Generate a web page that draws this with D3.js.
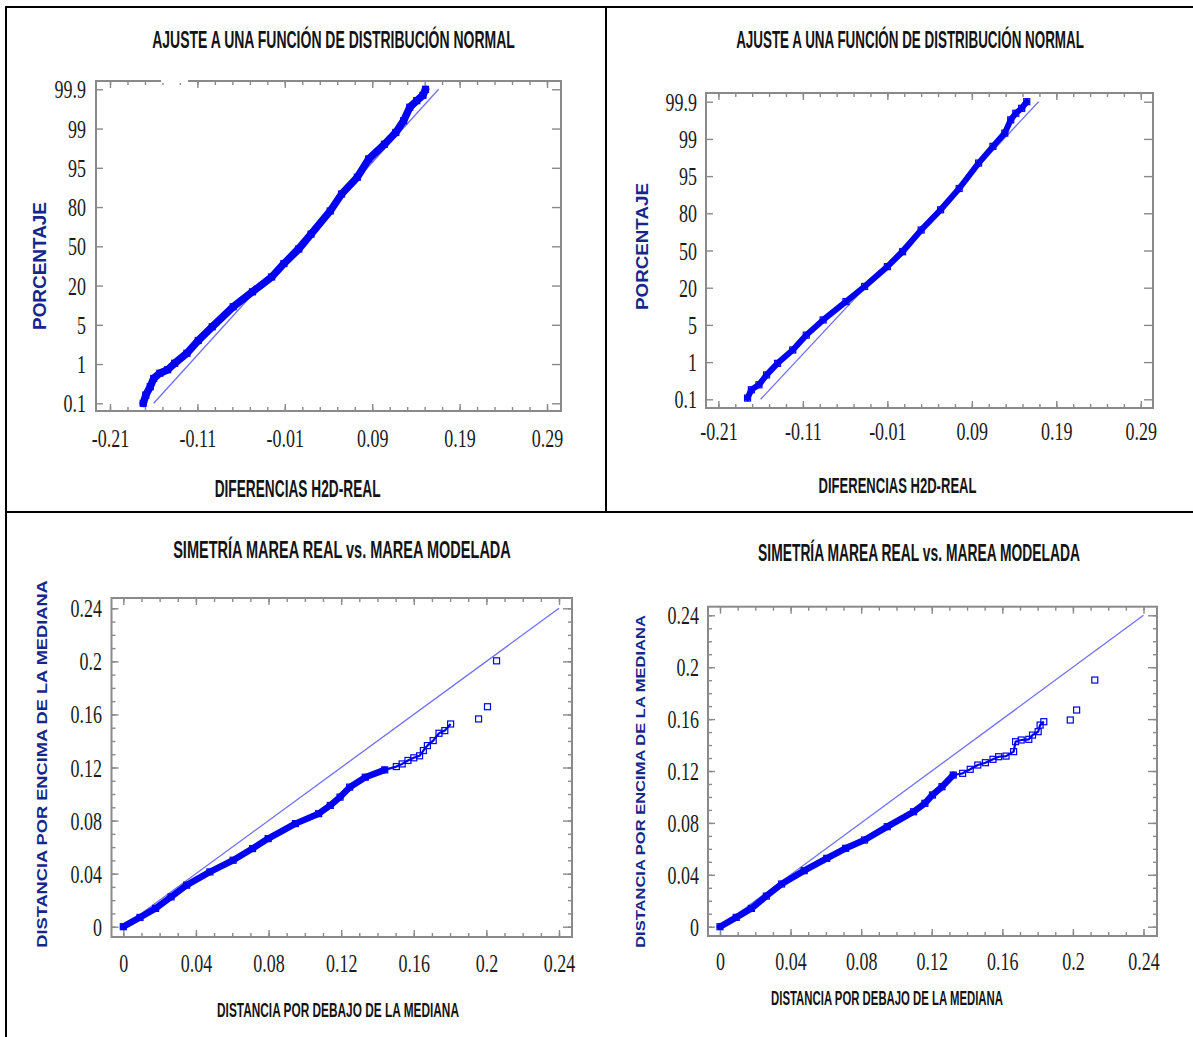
<!DOCTYPE html>
<html><head><meta charset="utf-8">
<script src="https://cdn.jsdelivr.net/npm/d3@7"></script>
<style>html,body{margin:0;padding:0;background:#fff}svg{display:block}</style>
</head><body>
<script>
// ---------- DATA ----------
const pctTicks = [0.1, 1, 5, 20, 50, 80, 95, 99, 99.9];
const pctTickLabels = ["0.1", "1", "5", "20", "50", "80", "95", "99", "99.9"];
const diffTicks = [-0.21, -0.11, -0.01, 0.09, 0.19, 0.29];
const diffTickLabels = ["-0.21", "-0.11", "-0.01", "0.09", "0.19", "0.29"];
const distTicks = [0, 0.04, 0.08, 0.12, 0.16, 0.2, 0.24];
const distTickLabels = ["0", "0.04", "0.08", "0.12", "0.16", "0.2", "0.24"];

const titleNormal = "AJUSTE A UNA FUNCIÓN DE DISTRIBUCIÓN NORMAL";
const titleSym = "SIMETRÍA MAREA REAL vs. MAREA MODELADA";
const xTitleNormal = "DIFERENCIAS H2D-REAL";
const yTitleNormal = "PORCENTAJE";
const xTitleSym = "DISTANCIA POR DEBAJO DE LA MEDIANA";
const yTitleSym = "DISTANCIA POR ENCIMA DE LA MEDIANA";

// Top-left normal probability plot (difference, cumulative percent)
const normLeftDiff = [-0.172,-0.169,-0.164,-0.160,-0.153,-0.144,-0.136,-0.122,-0.109,-0.093,-0.069,-0.047,-0.025,-0.011,0.006,0.020,0.042,0.055,0.073,0.086,0.104,0.117,0.126,0.133,0.141,0.148,0.151];
const normLeftPct  = [0.1,0.29,0.48,0.67,0.79,0.87,1.08,2.1,3.4,4.8,11.9,17.6,26.6,36.8,47.9,59.3,77,85,91.4,95.9,97.4,98.6,99.18,99.49,99.64,99.76,99.9];
const normLeftFitDiff = [-0.160, 0.166];
const normLeftFitPct  = [0.1, 99.9];

// Top-right normal probability plot
const normRightDiff = [-0.1755,-0.171,-0.162,-0.153,-0.140,-0.122,-0.106,-0.086,-0.059,-0.037,-0.010,0.008,0.030,0.053,0.075,0.098,0.115,0.129,0.136,0.142,0.149,0.155];
const normRightPct  = [0.13,0.33,0.45,0.69,0.97,2.3,3.9,7,14.4,21,37,49,66.5,81.4,90,96.4,98.2,99.14,99.46,99.62,99.74,99.9];
const normRightFitDiff = [-0.160, 0.169];
const normRightFitPct  = [0.1, 99.9];

// Bottom-left symmetry plot (below median, above median)
const symLeftBelow = [0,0.0092,0.0178,0.0263,0.0349,0.0477,0.0605,0.0712,0.0798,0.0948,0.1076,0.1140,0.1194,0.1247,0.1333,0.1440];
const symLeftAbove = [0,0.0070,0.0138,0.0225,0.0313,0.0413,0.0501,0.0589,0.0664,0.0777,0.0852,0.0914,0.0977,0.1052,0.1127,0.1182];
const symLeftTailBelow = [0.1504,0.1536,0.1568,0.1600,0.1632,0.1653,0.1675,0.1707,0.1739,0.1771,0.1803];
const symLeftTailAbove = [0.1207,0.1227,0.1253,0.1273,0.1288,0.1328,0.1365,0.1403,0.1458,0.1478,0.1528];
const symLeftOutBelow = [0.1957,0.2006,0.2056];
const symLeftOutAbove = [0.1566,0.1658,0.2004];

// Bottom-right symmetry plot
const symRightBelow = [0,0.0092,0.0178,0.0263,0.0349,0.0477,0.0605,0.0712,0.0819,0.0948,0.1097,0.1161,0.1204,0.1258,0.1322];
const symRightAbove = [0,0.0072,0.0141,0.0236,0.0329,0.0432,0.0527,0.0604,0.0668,0.0771,0.0886,0.0951,0.1015,0.1079,0.1169];
const symRightTailBelow = [0.1375,0.1418,0.1461,0.1504,0.1547,0.1579,0.1621,0.1664,0.1675,0.1707,0.1750,0.1771,0.1803,0.1814,0.1835];
const symRightTailAbove = [0.1182,0.1213,0.1246,0.1264,0.1290,0.1310,0.1315,0.1349,0.1426,0.1439,0.1444,0.1477,0.1503,0.1554,0.1580];
const symRightOutBelow = [0.1985,0.2021,0.2124];
const symRightOutAbove = [0.1593,0.1670,0.1901];

const symDiagonal = [0, 0.24];

// ---------- LAYOUT ----------
const W = 1193, H = 1037;
const svg = d3.select("body").append("svg").attr("width", W).attr("height", H);
svg.append("rect").attr("width", W).attr("height", H).attr("fill", "#fff");

const borderLines = [[5,7,1193,7],[6,6,6,1037],[606,6,606,512],[5,512,1193,512]];
svg.selectAll("line.cell").data(borderLines).join("line")
  .attr("x1", d=>d[0]).attr("y1", d=>d[1]).attr("x2", d=>d[2]).attr("y2", d=>d[3])
  .attr("stroke", "#000").attr("stroke-width", 2);

const BLUE = "#0000f5", FIT = "#6f6fff", FRAME = "#8a8a8a";
const titleFont = "'Liberation Sans',Arial,sans-serif";
const tickFont = "'Liberation Serif','Times New Roman',serif";
const yTitleFont = "'Liberation Sans',Arial,sans-serif";
const SX = 0.72;

// condense / stretch a text horizontally (along its baseline) to a target length
function fitScale(sel, x, y, rot, size, target) {
  sel.attr("font-size", size).attr("transform", `translate(${x},${y}) rotate(${rot})`);
  const len = sel.node().getComputedTextLength();
  const s = len > 0 ? target / len : 1;
  sel.attr("transform", `translate(${x},${y}) rotate(${rot}) scale(${s.toFixed(4)},1)`);
  return sel;
}

function drawPanel(c) {
  const g = svg.append("g");
  const f = c.frame;
  const xAxisB = d3.axisBottom(c.x).tickValues(c.xTicks).tickSize(-7).tickFormat((d,i)=>c.xLabels[i]);
  const xMinorB = d3.axisBottom(c.x).tickValues(c.xMinor).tickSize(-4).tickFormat("");
  const xAxisT = d3.axisTop(c.x).tickValues(c.xTicks).tickSize(-7).tickFormat("");
  const xMinorT = d3.axisTop(c.x).tickValues(c.xMinor).tickSize(-4).tickFormat("");
  const yAxisL = d3.axisLeft(c.y).tickValues(c.yTicks).tickSize(-7).tickFormat((d,i)=>c.yLabels[i]);
  const yAxisR = d3.axisRight(c.y).tickValues(c.yTicks).tickSize(-9).tickFormat("");
  const parts = [
    [xMinorB, `translate(0,${f.b})`], [xMinorT, `translate(0,${f.t})`],
    [xAxisT, `translate(0,${f.t})`], [yAxisR, `translate(${f.r},0)`]
  ];
  if (c.yMinor) {
    parts.push([d3.axisLeft(c.y).tickValues(c.yMinor).tickSize(-4).tickFormat(""), `translate(${f.l},0)`]);
    parts.push([d3.axisRight(c.y).tickValues(c.yMinor).tickSize(-4).tickFormat(""), `translate(${f.r},0)`]);
  }
  parts.forEach(([ax, tr]) => {
    const a = g.append("g").attr("transform", tr).call(ax);
    a.select(".domain").remove();
    a.selectAll("line").attr("stroke", FRAME).attr("stroke-width", 1.4);
  });
  const bx = g.append("g").attr("transform", `translate(0,${f.b})`).call(xAxisB);
  bx.select(".domain").remove();
  bx.selectAll("line").attr("stroke", FRAME).attr("stroke-width", 1.4);
  bx.selectAll("text").attr("y", c.xLabelBase).attr("dy", null)
    .attr("transform", `scale(${SX},1)`)
    .attr("font-family", tickFont).attr("font-size", 25).attr("fill", "#1c1c1c");
  const ly = g.append("g").attr("transform", `translate(${f.l},0)`).call(yAxisL);
  ly.select(".domain").remove();
  ly.selectAll("line").attr("stroke", FRAME).attr("stroke-width", 1.4);
  ly.selectAll("text").attr("x", -c.yLabelGap / SX).attr("dy", "0.34em")
    .attr("transform", `scale(${SX},1)`).attr("text-anchor", "end")
    .attr("font-family", tickFont).attr("font-size", 25).attr("fill", "#1c1c1c");

  g.append("rect").attr("x", f.l).attr("y", f.t).attr("width", f.r - f.l).attr("height", f.b - f.t)
    .attr("fill", "none").attr("stroke", FRAME).attr("stroke-width", 2);
  if (c.frameGap) {
    g.append("line").attr("x1", c.frameGap[0]).attr("x2", c.frameGap[1]).attr("y1", f.t).attr("y2", f.t)
      .attr("stroke", "#fff").attr("stroke-width", 4);
  }

  const line = d3.line().x(d => c.x(d[0])).y(d => c.y(d[1]));
  g.append("path").datum(c.fit).attr("fill", "none").attr("stroke", FIT).attr("stroke-width", 1.3).attr("d", line);

  g.append("path").datum(c.band).attr("fill", "none").attr("stroke", BLUE)
    .attr("stroke-width", c.bandWidth).attr("stroke-linejoin", "round").attr("stroke-linecap", "round")
    .attr("d", line);
  if (c.tail) {
    g.append("path").datum([c.band[c.band.length - 1]].concat(c.tail)).attr("fill", "none").attr("stroke", BLUE)
      .attr("stroke-width", 2.2).attr("stroke-linejoin", "round").attr("d", line);
  }
  const all = c.band.concat(c.tail || [], c.out || []);
  g.selectAll("rect.pt").data(all).join("rect")
    .attr("x", d => c.x(d[0]) - 3).attr("y", d => c.y(d[1]) - 3)
    .attr("width", 6).attr("height", 6)
    .attr("fill", "none").attr("stroke", BLUE).attr("stroke-width", 1.2);

  // titles
  const t1 = g.append("text").text(c.title).attr("text-anchor", "middle")
    .attr("font-family", titleFont).attr("font-weight", "bold").attr("fill", "#141414");
  fitScale(t1, c.titlePos[0], c.titlePos[1], 0, c.titlePos[3], c.titlePos[2]);
  const t2 = g.append("text").text(c.xTitle).attr("text-anchor", "middle")
    .attr("font-family", titleFont).attr("font-weight", "bold").attr("fill", "#141414");
  fitScale(t2, c.xTitlePos[0], c.xTitlePos[1], 0, c.xTitlePos[3], c.xTitlePos[2]);
  const t3 = g.append("text").text(c.yTitle).attr("text-anchor", "middle")
    .attr("font-family", yTitleFont).attr("font-weight", "bold").attr("fill", "#17268a");
  fitScale(t3, c.yTitlePos[0], c.yTitlePos[1], -90, c.yTitlePos[3], c.yTitlePos[2]);
}

function minorRange(a, b, step) {
  const n = Math.round((b - a) / step);
  return d3.range(n + 1).map(i => +(a + i * step).toFixed(4));
}
function probScale(y0, y8) {
  return d3.scaleLinear().domain(pctTicks).range(pctTicks.map((d, i) => y0 + (y8 - y0) * i / (pctTicks.length - 1)));
}

drawPanel({
  frame: {l: 96, r: 561, t: 81, b: 411}, frameGap: [161, 188],
  x: d3.scaleLinear().domain([-0.21, 0.29]).range([110, 547]),
  y: probScale(403.3, 89.3),
  xTicks: diffTicks, xLabels: diffTickLabels, xMinor: minorRange(-0.21, 0.29, 0.02),
  yTicks: pctTicks, yLabels: pctTickLabels,
  xLabelBase: 36, yLabelGap: 10,
  fit: d3.zip(normLeftFitDiff, normLeftFitPct),
  band: d3.zip(normLeftDiff, normLeftPct), bandWidth: 7.5,
  title: titleNormal, titlePos: [333.5, 48, 363, 23],
  xTitle: xTitleNormal, xTitlePos: [297.6, 497, 166, 23],
  yTitle: yTitleNormal, yTitlePos: [46, 266, 128, 18]
});
drawPanel({
  frame: {l: 706, r: 1153, t: 93, b: 408},
  x: d3.scaleLinear().domain([-0.21, 0.29]).range([718.4, 1140.8]),
  y: probScale(399.3, 101.7),
  xTicks: diffTicks, xLabels: diffTickLabels, xMinor: minorRange(-0.21, 0.29, 0.02),
  yTicks: pctTicks, yLabels: pctTickLabels,
  xLabelBase: 32, yLabelGap: 9,
  fit: d3.zip(normRightFitDiff, normRightFitPct),
  band: d3.zip(normRightDiff, normRightPct), bandWidth: 6,
  title: titleNormal, titlePos: [910, 48.3, 348, 23],
  xTitle: xTitleNormal, xTitlePos: [897.5, 492.7, 158, 22],
  yTitle: yTitleNormal, yTitlePos: [648.4, 246.5, 127, 17]
});
drawPanel({
  frame: {l: 111.5, r: 572, t: 598, b: 937},
  x: d3.scaleLinear().domain([0, 0.24]).range([123.3, 559]),
  y: d3.scaleLinear().domain([0, 0.24]).range([926.7, 608.3]),
  xTicks: distTicks, xLabels: distTickLabels, xMinor: minorRange(0, 0.24, 0.01),
  yTicks: distTicks, yLabels: distTickLabels, yMinor: minorRange(0, 0.24, 0.01),
  xLabelBase: 35, yLabelGap: 9.5,
  fit: d3.zip(symDiagonal, symDiagonal),
  band: d3.zip(symLeftBelow, symLeftAbove), bandWidth: 6.5,
  tail: d3.zip(symLeftTailBelow, symLeftTailAbove),
  out: d3.zip(symLeftOutBelow, symLeftOutAbove),
  title: titleSym, titlePos: [342, 558, 338, 23],
  xTitle: xTitleSym, xTitlePos: [338, 1016.7, 242, 21],
  yTitle: yTitleSym, yTitlePos: [46.7, 764, 368, 14.5]
});
drawPanel({
  frame: {l: 708, r: 1157, t: 606.7, b: 936},
  x: d3.scaleLinear().domain([0, 0.24]).range([720, 1143.5]),
  y: d3.scaleLinear().domain([0, 0.24]).range([926.7, 615.3]),
  xTicks: distTicks, xLabels: distTickLabels, xMinor: minorRange(0, 0.24, 0.01),
  yTicks: distTicks, yLabels: distTickLabels, yMinor: minorRange(0, 0.24, 0.01),
  xLabelBase: 34, yLabelGap: 9,
  fit: d3.zip(symDiagonal, symDiagonal),
  band: d3.zip(symRightBelow, symRightAbove), bandWidth: 6.5,
  tail: d3.zip(symRightTailBelow, symRightTailAbove),
  out: d3.zip(symRightOutBelow, symRightOutAbove),
  title: titleSym, titlePos: [919, 561, 322, 23],
  xTitle: xTitleSym, xTitlePos: [887, 1005, 232, 21],
  yTitle: yTitleSym, yTitlePos: [644.6, 781.5, 333, 13.5]
});
</script>
</body></html>
